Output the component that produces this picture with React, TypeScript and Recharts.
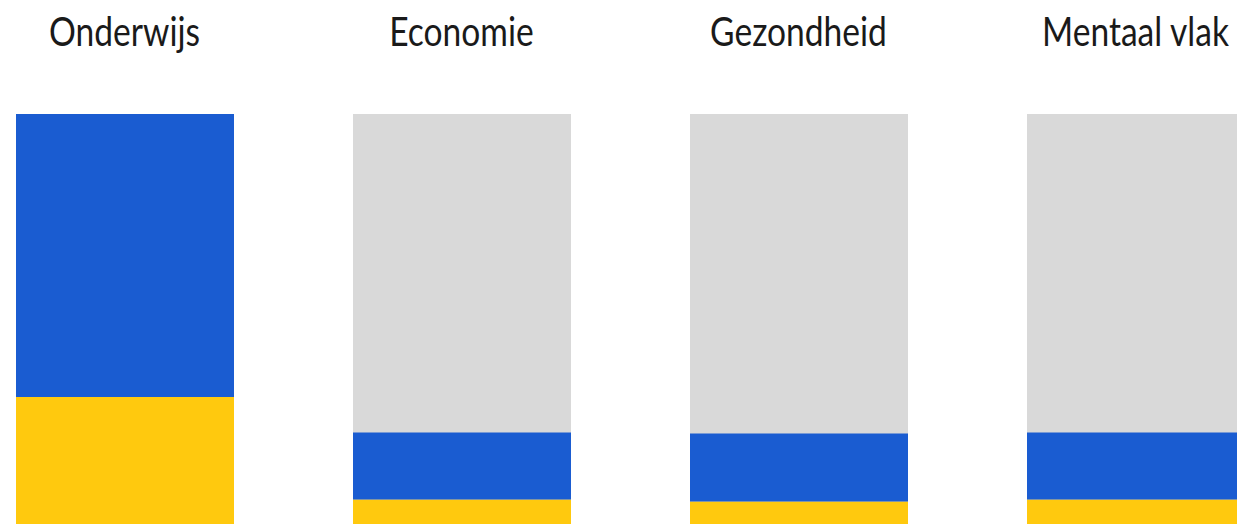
import React from "react";
import { BarChart, Bar, XAxis, YAxis } from "recharts";

const categories = ["Onderwijs", "Economie", "Gezondheid", "Mentaal vlak"];
const yellowValues = [31, 6, 5.5, 6];
const blueValues = [69, 16.3, 16.6, 16.3];

const data = categories.map((name, i) => ({
  name,
  yellow: yellowValues[i],
  blue: blueValues[i],
}));

const TitleTick = (props: any) => {
  const { x, y, payload } = props;
  return (
    <g transform={`translate(${x},${y - 60}) scale(0.84,1)`}>
      <text
        x={0}
        y={0}
        textAnchor="middle"
        fontFamily="Lato"
        fontSize={40}
        fill="#1a1a1a"
      >
        {payload.value}
      </text>
    </g>
  );
};

export default function App() {
  return (
    <>
      <style>{`html,body{margin:0;padding:0;overflow:hidden;background:#fff;}`}</style>
      <div
        style={{
          position: "fixed",
          left: 0,
          top: 0,
          width: 1237,
          height: 525,
          overflow: "hidden",
          background: "#fff",
        }}
      >
        <div style={{ position: "absolute", left: -44.5, top: 0 }}>
          <BarChart
            width={1348}
            height={525}
            data={data}
            margin={{ top: 0, right: 0, bottom: 1, left: 0 }}
            barSize={218}
          >
            <XAxis
              dataKey="name"
              orientation="top"
              height={114}
              axisLine={false}
              tickLine={false}
              tick={<TitleTick />}
              interval={0}
            />
            <YAxis hide domain={[0, 100]} />
            <Bar
              dataKey="yellow"
              stackId="a"
              fill="#FFC90E"
              background={{ fill: "#D9D9D9" }}
              isAnimationActive={false}
            />
            <Bar dataKey="blue" stackId="a" fill="#1A5CD1" isAnimationActive={false} />
          </BarChart>
        </div>
      </div>
    </>
  );
}
